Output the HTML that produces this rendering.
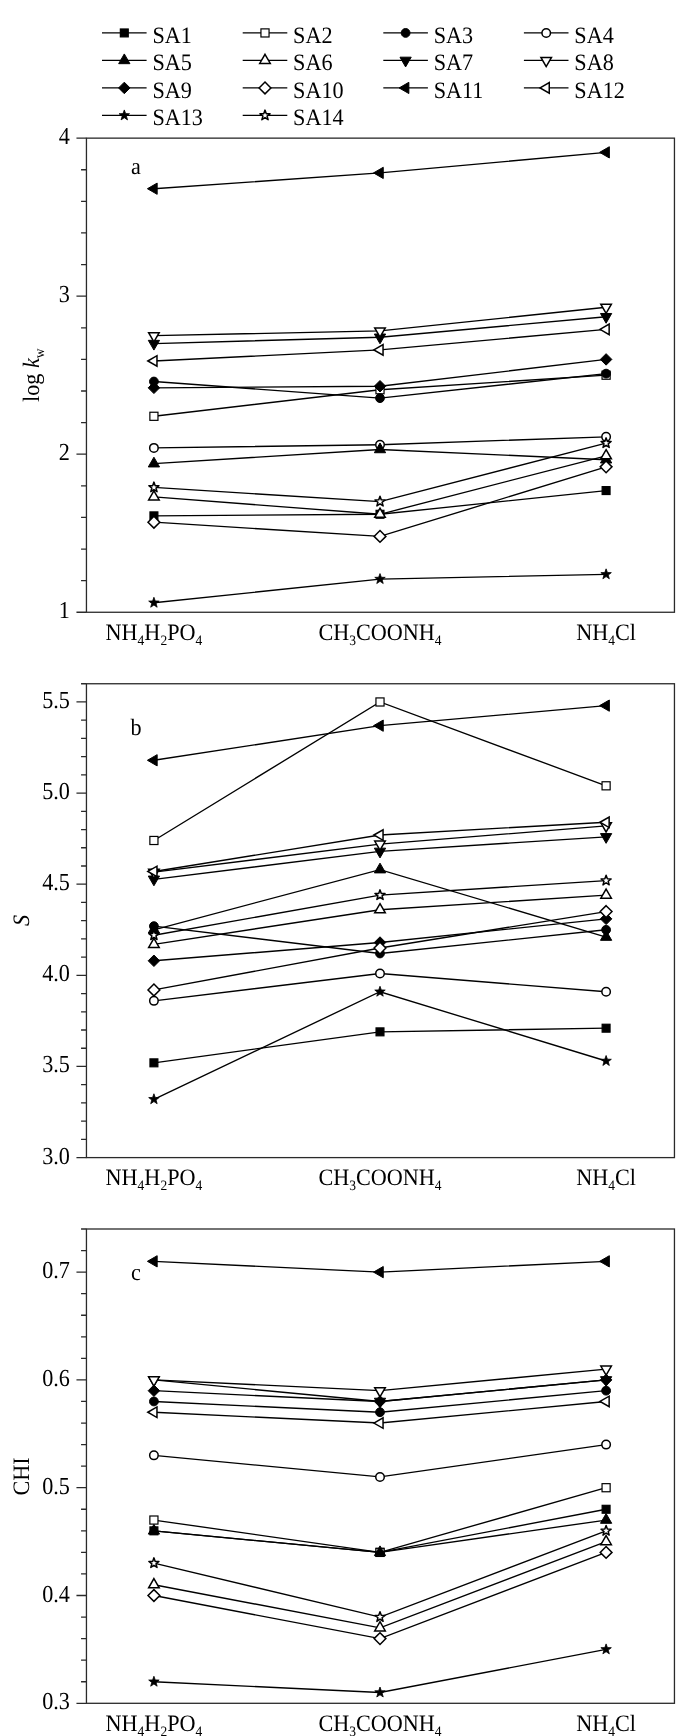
<!DOCTYPE html>
<html><head><meta charset="utf-8"><title>Figure</title>
<style>
html,body{margin:0;padding:0;background:#fff;}
body{width:700px;height:1736px;overflow:hidden;}
svg{display:block;will-change:transform;}
.t{text-rendering:geometricPrecision;font-family:"Liberation Serif",serif;font-size:22.2px;fill:#000;}
.s{font-size:13.5px;}
</style></head><body>
<svg width="700" height="1736" viewBox="0 0 700 1736">
<rect width="700" height="1736" fill="#fff"/>
<line x1="102" y1="32.93" x2="146.6" y2="32.93" stroke="#000" stroke-width="1.35"/>
<rect x="120.35" y="28.98" width="7.9" height="7.9" fill="#000" stroke="#000" stroke-width="1.2" stroke-linejoin="miter"/>
<text class="t" transform="translate(152.4 42.93) scale(1 1.06)">SA1</text>
<line x1="242.7" y1="32.93" x2="287.3" y2="32.93" stroke="#000" stroke-width="1.35"/>
<rect x="260.95" y="28.88" width="8.1" height="8.1" fill="#fff" stroke="#000" stroke-width="1.2" stroke-linejoin="miter"/>
<text class="t" transform="translate(293.1 42.93) scale(1 1.06)">SA2</text>
<line x1="383.3" y1="32.93" x2="427.9" y2="32.93" stroke="#000" stroke-width="1.35"/>
<circle cx="405.6" cy="32.93" r="4.4" fill="#000" stroke="#000" stroke-width="1.0" stroke-linejoin="miter"/>
<text class="t" transform="translate(433.7 42.93) scale(1 1.06)">SA3</text>
<line x1="523.9" y1="32.93" x2="568.5" y2="32.93" stroke="#000" stroke-width="1.35"/>
<circle cx="546.2" cy="32.93" r="4.25" fill="#fff" stroke="#000" stroke-width="1.5" stroke-linejoin="miter"/>
<text class="t" transform="translate(574.3 42.93) scale(1 1.06)">SA4</text>
<line x1="102" y1="60.43" x2="146.6" y2="60.43" stroke="#000" stroke-width="1.35"/>
<polygon points="124.3,53.93 129.93,63.68 118.67,63.68" fill="#000" stroke="#000" stroke-width="1.0" stroke-linejoin="miter"/>
<text class="t" transform="translate(152.4 70.43) scale(1 1.06)">SA5</text>
<line x1="242.7" y1="60.43" x2="287.3" y2="60.43" stroke="#000" stroke-width="1.35"/>
<polygon points="265,54.33 270.28,63.48 259.72,63.48" fill="#fff" stroke="#000" stroke-width="1.5" stroke-linejoin="miter"/>
<text class="t" transform="translate(293.1 70.43) scale(1 1.06)">SA6</text>
<line x1="383.3" y1="60.43" x2="427.9" y2="60.43" stroke="#000" stroke-width="1.35"/>
<polygon points="405.6,66.93 399.97,57.18 411.23,57.18" fill="#000" stroke="#000" stroke-width="1.0" stroke-linejoin="miter"/>
<text class="t" transform="translate(433.7 70.43) scale(1 1.06)">SA7</text>
<line x1="523.9" y1="60.43" x2="568.5" y2="60.43" stroke="#000" stroke-width="1.35"/>
<polygon points="546.2,66.53 540.92,57.38 551.48,57.38" fill="#fff" stroke="#000" stroke-width="1.5" stroke-linejoin="miter"/>
<text class="t" transform="translate(574.3 70.43) scale(1 1.06)">SA8</text>
<line x1="102" y1="87.93" x2="146.6" y2="87.93" stroke="#000" stroke-width="1.35"/>
<polygon points="124.3,82.18 130.05,87.93 124.3,93.68 118.55,87.93" fill="#000" stroke="#000" stroke-width="1.0" stroke-linejoin="miter"/>
<text class="t" transform="translate(152.4 97.93) scale(1 1.06)">SA9</text>
<line x1="242.7" y1="87.93" x2="287.3" y2="87.93" stroke="#000" stroke-width="1.35"/>
<polygon points="265,82.03 270.9,87.93 265,93.83 259.1,87.93" fill="#fff" stroke="#000" stroke-width="1.5" stroke-linejoin="miter"/>
<text class="t" transform="translate(293.1 97.93) scale(1 1.06)">SA10</text>
<line x1="383.3" y1="87.93" x2="427.9" y2="87.93" stroke="#000" stroke-width="1.35"/>
<polygon points="399.1,87.93 408.85,82.3 408.85,93.56" fill="#000" stroke="#000" stroke-width="1.0" stroke-linejoin="miter"/>
<text class="t" transform="translate(433.7 97.93) scale(1 1.06)">SA11</text>
<line x1="523.9" y1="87.93" x2="568.5" y2="87.93" stroke="#000" stroke-width="1.35"/>
<polygon points="540.1,87.93 549.25,82.65 549.25,93.21" fill="#fff" stroke="#000" stroke-width="1.5" stroke-linejoin="miter"/>
<text class="t" transform="translate(574.3 97.93) scale(1 1.06)">SA12</text>
<line x1="102" y1="115.43" x2="146.6" y2="115.43" stroke="#000" stroke-width="1.35"/>
<polygon points="124.3,109.93 125.63,113.61 129.53,113.73 126.44,116.13 127.53,119.88 124.3,117.69 121.07,119.88 122.16,116.13 119.07,113.73 122.97,113.61" fill="#000" stroke="#000" stroke-width="0.8" stroke-linejoin="round"/>
<text class="t" transform="translate(152.4 125.43) scale(1 1.06)">SA13</text>
<line x1="242.7" y1="115.43" x2="287.3" y2="115.43" stroke="#000" stroke-width="1.35"/>
<polygon points="265,110.13 266.28,113.67 270.04,113.79 267.07,116.1 268.12,119.72 265,117.6 261.88,119.72 262.93,116.1 259.96,113.79 263.72,113.67" fill="#fff" stroke="#000" stroke-width="1.5" stroke-linejoin="round"/>
<text class="t" transform="translate(293.1 125.43) scale(1 1.06)">SA14</text>
<!-- panel a -->
<rect x="86.45" y="138.14" width="588" height="474.12" fill="none" stroke="#2a2a2a" stroke-width="1.3"/>
<path d="M76.45 612.26h10M81.05 580.65h5.4M81.05 549.04h5.4M81.05 517.44h5.4M81.05 485.83h5.4M76.45 454.22h10M81.05 422.61h5.4M81.05 391h5.4M81.05 359.4h5.4M81.05 327.79h5.4M76.45 296.18h10M81.05 264.57h5.4M81.05 232.96h5.4M81.05 201.36h5.4M81.05 169.75h5.4M76.45 138.14h10" stroke="#2a2a2a" stroke-width="1.3" fill="none"/>
<text class="t" transform="translate(69.9 618.26) scale(1 1.1)" text-anchor="end">1</text>
<text class="t" transform="translate(69.9 460.22) scale(1 1.1)" text-anchor="end">2</text>
<text class="t" transform="translate(69.9 302.18) scale(1 1.1)" text-anchor="end">3</text>
<text class="t" transform="translate(69.9 144.14) scale(1 1.1)" text-anchor="end">4</text>
<text class="t" transform="translate(153.92 639.96) scale(1 1.06)" text-anchor="middle">NH<tspan class="s" dy="4.6">4</tspan><tspan dy="-4.6">H</tspan><tspan class="s" dy="4.6">2</tspan><tspan dy="-4.6">PO</tspan><tspan class="s" dy="4.6">4</tspan></text>
<text class="t" transform="translate(380 639.96) scale(1 1.06)" text-anchor="middle">CH<tspan class="s" dy="4.6">3</tspan><tspan dy="-4.6">COONH</tspan><tspan class="s" dy="4.6">4</tspan></text>
<text class="t" transform="translate(606.1 639.96) scale(1 1.06)" text-anchor="middle">NH<tspan class="s" dy="4.6">4</tspan><tspan dy="-4.6">Cl</tspan></text>
<text class="t" transform="translate(136 174.04) scale(1 1.06)" text-anchor="middle">a</text>
<text class="t" transform="translate(38.9 375.2) rotate(-90) scale(1 1.06)" text-anchor="middle">log <tspan font-style="italic">k</tspan><tspan class="s" dy="4.6">w</tspan></text>
<polyline points="153.92,515.86 380,514.28 606.1,490.57" fill="none" stroke="#000" stroke-width="1.35"/>
<rect x="149.97" y="511.91" width="7.9" height="7.9" fill="#000" stroke="#000" stroke-width="1.2" stroke-linejoin="miter"/>
<rect x="376.05" y="510.33" width="7.9" height="7.9" fill="#000" stroke="#000" stroke-width="1.2" stroke-linejoin="miter"/>
<rect x="602.15" y="486.62" width="7.9" height="7.9" fill="#000" stroke="#000" stroke-width="1.2" stroke-linejoin="miter"/>
<polyline points="153.92,416.29 380,389.74 606.1,375.2" fill="none" stroke="#000" stroke-width="1.35"/>
<rect x="149.87" y="412.24" width="8.1" height="8.1" fill="#fff" stroke="#000" stroke-width="1.2" stroke-linejoin="miter"/>
<rect x="375.95" y="385.69" width="8.1" height="8.1" fill="#fff" stroke="#000" stroke-width="1.2" stroke-linejoin="miter"/>
<rect x="602.05" y="371.15" width="8.1" height="8.1" fill="#fff" stroke="#000" stroke-width="1.2" stroke-linejoin="miter"/>
<polyline points="153.92,381.52 380,398.12 606.1,373.62" fill="none" stroke="#000" stroke-width="1.35"/>
<circle cx="153.92" cy="381.52" r="4.4" fill="#000" stroke="#000" stroke-width="1.0" stroke-linejoin="miter"/>
<circle cx="380" cy="398.12" r="4.4" fill="#000" stroke="#000" stroke-width="1.0" stroke-linejoin="miter"/>
<circle cx="606.1" cy="373.62" r="4.4" fill="#000" stroke="#000" stroke-width="1.0" stroke-linejoin="miter"/>
<polyline points="153.92,447.9 380,444.74 606.1,436.84" fill="none" stroke="#000" stroke-width="1.35"/>
<circle cx="153.92" cy="447.9" r="4.25" fill="#fff" stroke="#000" stroke-width="1.5" stroke-linejoin="miter"/>
<circle cx="380" cy="444.74" r="4.25" fill="#fff" stroke="#000" stroke-width="1.5" stroke-linejoin="miter"/>
<circle cx="606.1" cy="436.84" r="4.25" fill="#fff" stroke="#000" stroke-width="1.5" stroke-linejoin="miter"/>
<polyline points="153.92,463.7 380,449.48 606.1,459.75" fill="none" stroke="#000" stroke-width="1.35"/>
<polygon points="153.92,457.2 159.55,466.95 148.29,466.95" fill="#000" stroke="#000" stroke-width="1.0" stroke-linejoin="miter"/>
<polygon points="380,442.98 385.63,452.73 374.37,452.73" fill="#000" stroke="#000" stroke-width="1.0" stroke-linejoin="miter"/>
<polygon points="606.1,453.25 611.73,463 600.47,463" fill="#000" stroke="#000" stroke-width="1.0" stroke-linejoin="miter"/>
<polyline points="153.92,496.89 380,514.28 606.1,455.8" fill="none" stroke="#000" stroke-width="1.35"/>
<polygon points="153.92,490.79 159.2,499.94 148.64,499.94" fill="#fff" stroke="#000" stroke-width="1.5" stroke-linejoin="miter"/>
<polygon points="380,508.18 385.28,517.33 374.72,517.33" fill="#fff" stroke="#000" stroke-width="1.5" stroke-linejoin="miter"/>
<polygon points="606.1,449.7 611.38,458.85 600.82,458.85" fill="#fff" stroke="#000" stroke-width="1.5" stroke-linejoin="miter"/>
<polyline points="153.92,343.59 380,337.27 606.1,316.73" fill="none" stroke="#000" stroke-width="1.35"/>
<polygon points="153.92,350.09 148.29,340.34 159.55,340.34" fill="#000" stroke="#000" stroke-width="1.0" stroke-linejoin="miter"/>
<polygon points="380,343.77 374.37,334.02 385.63,334.02" fill="#000" stroke="#000" stroke-width="1.0" stroke-linejoin="miter"/>
<polygon points="606.1,323.23 600.47,313.48 611.73,313.48" fill="#000" stroke="#000" stroke-width="1.0" stroke-linejoin="miter"/>
<polyline points="153.92,335.69 380,330.95 606.1,307.24" fill="none" stroke="#000" stroke-width="1.35"/>
<polygon points="153.92,341.79 148.64,332.64 159.2,332.64" fill="#fff" stroke="#000" stroke-width="1.5" stroke-linejoin="miter"/>
<polygon points="380,337.05 374.72,327.9 385.28,327.9" fill="#fff" stroke="#000" stroke-width="1.5" stroke-linejoin="miter"/>
<polygon points="606.1,313.34 600.82,304.19 611.38,304.19" fill="#fff" stroke="#000" stroke-width="1.5" stroke-linejoin="miter"/>
<polyline points="153.92,387.84 380,386.26 606.1,359.4" fill="none" stroke="#000" stroke-width="1.35"/>
<polygon points="153.92,382.09 159.67,387.84 153.92,393.59 148.17,387.84" fill="#000" stroke="#000" stroke-width="1.0" stroke-linejoin="miter"/>
<polygon points="380,380.51 385.75,386.26 380,392.01 374.25,386.26" fill="#000" stroke="#000" stroke-width="1.0" stroke-linejoin="miter"/>
<polygon points="606.1,353.65 611.85,359.4 606.1,365.15 600.35,359.4" fill="#000" stroke="#000" stroke-width="1.0" stroke-linejoin="miter"/>
<polyline points="153.92,522.18 380,536.4 606.1,466.86" fill="none" stroke="#000" stroke-width="1.35"/>
<polygon points="153.92,516.28 159.82,522.18 153.92,528.08 148.02,522.18" fill="#fff" stroke="#000" stroke-width="1.5" stroke-linejoin="miter"/>
<polygon points="380,530.5 385.9,536.4 380,542.3 374.1,536.4" fill="#fff" stroke="#000" stroke-width="1.5" stroke-linejoin="miter"/>
<polygon points="606.1,460.96 612,466.86 606.1,472.76 600.2,466.86" fill="#fff" stroke="#000" stroke-width="1.5" stroke-linejoin="miter"/>
<polyline points="153.92,188.71 380,172.91 606.1,152.36" fill="none" stroke="#000" stroke-width="1.35"/>
<polygon points="147.42,188.71 157.17,183.08 157.17,194.34" fill="#000" stroke="#000" stroke-width="1.0" stroke-linejoin="miter"/>
<polygon points="373.5,172.91 383.25,167.28 383.25,178.54" fill="#000" stroke="#000" stroke-width="1.0" stroke-linejoin="miter"/>
<polygon points="599.6,152.36 609.35,146.73 609.35,157.99" fill="#000" stroke="#000" stroke-width="1.0" stroke-linejoin="miter"/>
<polyline points="153.92,360.98 380,349.91 606.1,329.37" fill="none" stroke="#000" stroke-width="1.35"/>
<polygon points="147.82,360.98 156.97,355.69 156.97,366.26" fill="#fff" stroke="#000" stroke-width="1.5" stroke-linejoin="miter"/>
<polygon points="373.9,349.91 383.05,344.63 383.05,355.2" fill="#fff" stroke="#000" stroke-width="1.5" stroke-linejoin="miter"/>
<polygon points="600,329.37 609.15,324.09 609.15,334.65" fill="#fff" stroke="#000" stroke-width="1.5" stroke-linejoin="miter"/>
<polyline points="153.92,602.78 380,579.07 606.1,574.33" fill="none" stroke="#000" stroke-width="1.35"/>
<polygon points="153.92,597.28 155.25,600.95 159.15,601.08 156.06,603.47 157.15,607.23 153.92,605.03 150.69,607.23 151.78,603.47 148.69,601.08 152.59,600.95" fill="#000" stroke="#000" stroke-width="0.8" stroke-linejoin="round"/>
<polygon points="380,573.57 381.33,577.25 385.23,577.37 382.14,579.77 383.23,583.52 380,581.33 376.77,583.52 377.86,579.77 374.77,577.37 378.67,577.25" fill="#000" stroke="#000" stroke-width="0.8" stroke-linejoin="round"/>
<polygon points="606.1,568.83 607.43,572.51 611.33,572.63 608.24,575.03 609.33,578.78 606.1,576.59 602.87,578.78 603.96,575.03 600.87,572.63 604.77,572.51" fill="#000" stroke="#000" stroke-width="0.8" stroke-linejoin="round"/>
<polyline points="153.92,487.41 380,501.63 606.1,443.16" fill="none" stroke="#000" stroke-width="1.35"/>
<polygon points="153.92,482.11 155.2,485.65 158.96,485.77 155.99,488.08 157.04,491.7 153.92,489.58 150.8,491.7 151.85,488.08 148.88,485.77 152.64,485.65" fill="#fff" stroke="#000" stroke-width="1.5" stroke-linejoin="round"/>
<polygon points="380,496.33 381.28,499.87 385.04,499.99 382.07,502.3 383.12,505.92 380,503.81 376.88,505.92 377.93,502.3 374.96,499.99 378.72,499.87" fill="#fff" stroke="#000" stroke-width="1.5" stroke-linejoin="round"/>
<polygon points="606.1,437.86 607.38,441.4 611.14,441.52 608.17,443.83 609.22,447.44 606.1,445.33 602.98,447.44 604.03,443.83 601.06,441.52 604.82,441.4" fill="#fff" stroke="#000" stroke-width="1.5" stroke-linejoin="round"/>
<!-- panel b -->
<rect x="86.45" y="683.75" width="588" height="473.85" fill="none" stroke="#2a2a2a" stroke-width="1.3"/>
<path d="M76.45 1157.6h10M81.05 1139.38h5.4M81.05 1121.15h5.4M81.05 1102.92h5.4M81.05 1084.7h5.4M76.45 1066.47h10M81.05 1048.25h5.4M81.05 1030.02h5.4M81.05 1011.8h5.4M81.05 993.57h5.4M76.45 975.35h10M81.05 957.12h5.4M81.05 938.9h5.4M81.05 920.67h5.4M81.05 902.45h5.4M76.45 884.22h10M81.05 866h5.4M81.05 847.77h5.4M81.05 829.55h5.4M81.05 811.32h5.4M76.45 793.1h10M81.05 774.88h5.4M81.05 756.65h5.4M81.05 738.42h5.4M81.05 720.2h5.4M76.45 701.97h10M81.05 683.75h5.4" stroke="#2a2a2a" stroke-width="1.3" fill="none"/>
<text class="t" transform="translate(69.9 1163.6) scale(1 1.1)" text-anchor="end">3.0</text>
<text class="t" transform="translate(69.9 1072.47) scale(1 1.1)" text-anchor="end">3.5</text>
<text class="t" transform="translate(69.9 981.35) scale(1 1.1)" text-anchor="end">4.0</text>
<text class="t" transform="translate(69.9 890.22) scale(1 1.1)" text-anchor="end">4.5</text>
<text class="t" transform="translate(69.9 799.1) scale(1 1.1)" text-anchor="end">5.0</text>
<text class="t" transform="translate(69.9 707.97) scale(1 1.1)" text-anchor="end">5.5</text>
<text class="t" transform="translate(153.92 1185.3) scale(1 1.06)" text-anchor="middle">NH<tspan class="s" dy="4.6">4</tspan><tspan dy="-4.6">H</tspan><tspan class="s" dy="4.6">2</tspan><tspan dy="-4.6">PO</tspan><tspan class="s" dy="4.6">4</tspan></text>
<text class="t" transform="translate(380 1185.3) scale(1 1.06)" text-anchor="middle">CH<tspan class="s" dy="4.6">3</tspan><tspan dy="-4.6">COONH</tspan><tspan class="s" dy="4.6">4</tspan></text>
<text class="t" transform="translate(606.1 1185.3) scale(1 1.06)" text-anchor="middle">NH<tspan class="s" dy="4.6">4</tspan><tspan dy="-4.6">Cl</tspan></text>
<text class="t" transform="translate(136 734.95) scale(1 1.06)" text-anchor="middle">b</text>
<text class="t" transform="translate(28.6 920.4) rotate(-90) scale(1 1.06)" text-anchor="middle" font-style="italic">S</text>
<polyline points="153.92,1062.83 380,1031.85 606.1,1028.2" fill="none" stroke="#000" stroke-width="1.35"/>
<rect x="149.97" y="1058.88" width="7.9" height="7.9" fill="#000" stroke="#000" stroke-width="1.2" stroke-linejoin="miter"/>
<rect x="376.05" y="1027.9" width="7.9" height="7.9" fill="#000" stroke="#000" stroke-width="1.2" stroke-linejoin="miter"/>
<rect x="602.15" y="1024.25" width="7.9" height="7.9" fill="#000" stroke="#000" stroke-width="1.2" stroke-linejoin="miter"/>
<polyline points="153.92,840.48 380,701.97 606.1,785.81" fill="none" stroke="#000" stroke-width="1.35"/>
<rect x="149.87" y="836.43" width="8.1" height="8.1" fill="#fff" stroke="#000" stroke-width="1.2" stroke-linejoin="miter"/>
<rect x="375.95" y="697.92" width="8.1" height="8.1" fill="#fff" stroke="#000" stroke-width="1.2" stroke-linejoin="miter"/>
<rect x="602.05" y="781.76" width="8.1" height="8.1" fill="#fff" stroke="#000" stroke-width="1.2" stroke-linejoin="miter"/>
<polyline points="153.92,926.14 380,953.48 606.1,929.79" fill="none" stroke="#000" stroke-width="1.35"/>
<circle cx="153.92" cy="926.14" r="4.4" fill="#000" stroke="#000" stroke-width="1.0" stroke-linejoin="miter"/>
<circle cx="380" cy="953.48" r="4.4" fill="#000" stroke="#000" stroke-width="1.0" stroke-linejoin="miter"/>
<circle cx="606.1" cy="929.79" r="4.4" fill="#000" stroke="#000" stroke-width="1.0" stroke-linejoin="miter"/>
<polyline points="153.92,1000.87 380,973.53 606.1,991.75" fill="none" stroke="#000" stroke-width="1.35"/>
<circle cx="153.92" cy="1000.87" r="4.25" fill="#fff" stroke="#000" stroke-width="1.5" stroke-linejoin="miter"/>
<circle cx="380" cy="973.53" r="4.25" fill="#fff" stroke="#000" stroke-width="1.5" stroke-linejoin="miter"/>
<circle cx="606.1" cy="991.75" r="4.25" fill="#fff" stroke="#000" stroke-width="1.5" stroke-linejoin="miter"/>
<polyline points="153.92,929.79 380,869.64 606.1,937.08" fill="none" stroke="#000" stroke-width="1.35"/>
<polygon points="153.92,923.29 159.55,933.04 148.29,933.04" fill="#000" stroke="#000" stroke-width="1.0" stroke-linejoin="miter"/>
<polygon points="380,863.14 385.63,872.89 374.37,872.89" fill="#000" stroke="#000" stroke-width="1.0" stroke-linejoin="miter"/>
<polygon points="606.1,930.58 611.73,940.33 600.47,940.33" fill="#000" stroke="#000" stroke-width="1.0" stroke-linejoin="miter"/>
<polyline points="153.92,944.37 380,909.74 606.1,895.16" fill="none" stroke="#000" stroke-width="1.35"/>
<polygon points="153.92,938.27 159.2,947.42 148.64,947.42" fill="#fff" stroke="#000" stroke-width="1.5" stroke-linejoin="miter"/>
<polygon points="380,903.64 385.28,912.79 374.72,912.79" fill="#fff" stroke="#000" stroke-width="1.5" stroke-linejoin="miter"/>
<polygon points="606.1,889.06 611.38,898.21 600.82,898.21" fill="#fff" stroke="#000" stroke-width="1.5" stroke-linejoin="miter"/>
<polyline points="153.92,879.3 380,851.42 606.1,836.84" fill="none" stroke="#000" stroke-width="1.35"/>
<polygon points="153.92,885.8 148.29,876.05 159.55,876.05" fill="#000" stroke="#000" stroke-width="1.0" stroke-linejoin="miter"/>
<polygon points="380,857.92 374.37,848.17 385.63,848.17" fill="#000" stroke="#000" stroke-width="1.0" stroke-linejoin="miter"/>
<polygon points="606.1,843.34 600.47,833.59 611.73,833.59" fill="#000" stroke="#000" stroke-width="1.0" stroke-linejoin="miter"/>
<polyline points="153.92,872.2 380,844.13 606.1,825.9" fill="none" stroke="#000" stroke-width="1.35"/>
<polygon points="153.92,878.3 148.64,869.15 159.2,869.15" fill="#fff" stroke="#000" stroke-width="1.5" stroke-linejoin="miter"/>
<polygon points="380,850.23 374.72,841.08 385.28,841.08" fill="#fff" stroke="#000" stroke-width="1.5" stroke-linejoin="miter"/>
<polygon points="606.1,832 600.82,822.86 611.38,822.86" fill="#fff" stroke="#000" stroke-width="1.5" stroke-linejoin="miter"/>
<polyline points="153.92,960.77 380,942.54 606.1,918.85" fill="none" stroke="#000" stroke-width="1.35"/>
<polygon points="153.92,955.02 159.67,960.77 153.92,966.52 148.17,960.77" fill="#000" stroke="#000" stroke-width="1.0" stroke-linejoin="miter"/>
<polygon points="380,936.79 385.75,942.54 380,948.29 374.25,942.54" fill="#000" stroke="#000" stroke-width="1.0" stroke-linejoin="miter"/>
<polygon points="606.1,913.1 611.85,918.85 606.1,924.6 600.35,918.85" fill="#000" stroke="#000" stroke-width="1.0" stroke-linejoin="miter"/>
<polyline points="153.92,989.93 380,948.01 606.1,911.56" fill="none" stroke="#000" stroke-width="1.35"/>
<polygon points="153.92,984.03 159.82,989.93 153.92,995.83 148.02,989.93" fill="#fff" stroke="#000" stroke-width="1.5" stroke-linejoin="miter"/>
<polygon points="380,942.11 385.9,948.01 380,953.91 374.1,948.01" fill="#fff" stroke="#000" stroke-width="1.5" stroke-linejoin="miter"/>
<polygon points="606.1,905.66 612,911.56 606.1,917.46 600.2,911.56" fill="#fff" stroke="#000" stroke-width="1.5" stroke-linejoin="miter"/>
<polyline points="153.92,760.29 380,725.67 606.1,705.62" fill="none" stroke="#000" stroke-width="1.35"/>
<polygon points="147.42,760.29 157.17,754.67 157.17,765.92" fill="#000" stroke="#000" stroke-width="1.0" stroke-linejoin="miter"/>
<polygon points="373.5,725.67 383.25,720.04 383.25,731.3" fill="#000" stroke="#000" stroke-width="1.0" stroke-linejoin="miter"/>
<polygon points="599.6,705.62 609.35,699.99 609.35,711.25" fill="#000" stroke="#000" stroke-width="1.0" stroke-linejoin="miter"/>
<polyline points="153.92,871.47 380,835.02 606.1,822.26" fill="none" stroke="#000" stroke-width="1.35"/>
<polygon points="147.82,871.47 156.97,866.18 156.97,876.75" fill="#fff" stroke="#000" stroke-width="1.5" stroke-linejoin="miter"/>
<polygon points="373.9,835.02 383.05,829.73 383.05,840.3" fill="#fff" stroke="#000" stroke-width="1.5" stroke-linejoin="miter"/>
<polygon points="600,822.26 609.15,816.98 609.15,827.54" fill="#fff" stroke="#000" stroke-width="1.5" stroke-linejoin="miter"/>
<polyline points="153.92,1099.28 380,991.75 606.1,1061.01" fill="none" stroke="#000" stroke-width="1.35"/>
<polygon points="153.92,1093.78 155.25,1097.46 159.15,1097.58 156.06,1099.98 157.15,1103.73 153.92,1101.54 150.69,1103.73 151.78,1099.98 148.69,1097.58 152.59,1097.46" fill="#000" stroke="#000" stroke-width="0.8" stroke-linejoin="round"/>
<polygon points="380,986.25 381.33,989.93 385.23,990.05 382.14,992.45 383.23,996.2 380,994.01 376.77,996.2 377.86,992.45 374.77,990.05 378.67,989.93" fill="#000" stroke="#000" stroke-width="0.8" stroke-linejoin="round"/>
<polygon points="606.1,1055.51 607.43,1059.18 611.33,1059.31 608.24,1061.7 609.33,1065.46 606.1,1063.26 602.87,1065.46 603.96,1061.7 600.87,1059.31 604.77,1059.18" fill="#000" stroke="#000" stroke-width="0.8" stroke-linejoin="round"/>
<polyline points="153.92,935.25 380,895.16 606.1,880.58" fill="none" stroke="#000" stroke-width="1.35"/>
<polygon points="153.92,929.96 155.2,933.5 158.96,933.62 155.99,935.93 157.04,939.54 153.92,937.43 150.8,939.54 151.85,935.93 148.88,933.62 152.64,933.5" fill="#fff" stroke="#000" stroke-width="1.5" stroke-linejoin="round"/>
<polygon points="380,889.86 381.28,893.4 385.04,893.52 382.07,895.83 383.12,899.45 380,897.33 376.88,899.45 377.93,895.83 374.96,893.52 378.72,893.4" fill="#fff" stroke="#000" stroke-width="1.5" stroke-linejoin="round"/>
<polygon points="606.1,875.28 607.38,878.82 611.14,878.94 608.17,881.25 609.22,884.87 606.1,882.75 602.98,884.87 604.03,881.25 601.06,878.94 604.82,878.82" fill="#fff" stroke="#000" stroke-width="1.5" stroke-linejoin="round"/>
<!-- panel c -->
<rect x="86.45" y="1229" width="588" height="474.3" fill="none" stroke="#2a2a2a" stroke-width="1.3"/>
<path d="M76.45 1703.3h10M81.05 1681.74h5.4M81.05 1660.18h5.4M81.05 1638.62h5.4M81.05 1617.06h5.4M76.45 1595.5h10M81.05 1573.95h5.4M81.05 1552.39h5.4M81.05 1530.83h5.4M81.05 1509.27h5.4M76.45 1487.71h10M81.05 1466.15h5.4M81.05 1444.59h5.4M81.05 1423.03h5.4M81.05 1401.47h5.4M76.45 1379.91h10M81.05 1358.35h5.4M81.05 1336.8h5.4M81.05 1315.24h5.4M81.05 1293.68h5.4M76.45 1272.12h10M81.05 1250.56h5.4M81.05 1229h5.4" stroke="#2a2a2a" stroke-width="1.3" fill="none"/>
<text class="t" transform="translate(69.9 1709.3) scale(1 1.1)" text-anchor="end">0.3</text>
<text class="t" transform="translate(69.9 1601.5) scale(1 1.1)" text-anchor="end">0.4</text>
<text class="t" transform="translate(69.9 1493.71) scale(1 1.1)" text-anchor="end">0.5</text>
<text class="t" transform="translate(69.9 1385.91) scale(1 1.1)" text-anchor="end">0.6</text>
<text class="t" transform="translate(69.9 1278.12) scale(1 1.1)" text-anchor="end">0.7</text>
<text class="t" transform="translate(153.92 1731) scale(1 1.06)" text-anchor="middle">NH<tspan class="s" dy="4.6">4</tspan><tspan dy="-4.6">H</tspan><tspan class="s" dy="4.6">2</tspan><tspan dy="-4.6">PO</tspan><tspan class="s" dy="4.6">4</tspan></text>
<text class="t" transform="translate(380 1731) scale(1 1.06)" text-anchor="middle">CH<tspan class="s" dy="4.6">3</tspan><tspan dy="-4.6">COONH</tspan><tspan class="s" dy="4.6">4</tspan></text>
<text class="t" transform="translate(606.1 1731) scale(1 1.06)" text-anchor="middle">NH<tspan class="s" dy="4.6">4</tspan><tspan dy="-4.6">Cl</tspan></text>
<text class="t" transform="translate(136 1280.2) scale(1 1.06)" text-anchor="middle">c</text>
<text class="t" transform="translate(28.6 1476.5) rotate(-90) scale(1 1.06)" text-anchor="middle">CHI</text>
<polyline points="153.92,1530.83 380,1552.39 606.1,1509.27" fill="none" stroke="#000" stroke-width="1.35"/>
<rect x="149.97" y="1526.88" width="7.9" height="7.9" fill="#000" stroke="#000" stroke-width="1.2" stroke-linejoin="miter"/>
<rect x="376.05" y="1548.44" width="7.9" height="7.9" fill="#000" stroke="#000" stroke-width="1.2" stroke-linejoin="miter"/>
<rect x="602.15" y="1505.32" width="7.9" height="7.9" fill="#000" stroke="#000" stroke-width="1.2" stroke-linejoin="miter"/>
<polyline points="153.92,1520.05 380,1552.39 606.1,1487.71" fill="none" stroke="#000" stroke-width="1.35"/>
<rect x="149.87" y="1516" width="8.1" height="8.1" fill="#fff" stroke="#000" stroke-width="1.2" stroke-linejoin="miter"/>
<rect x="375.95" y="1548.34" width="8.1" height="8.1" fill="#fff" stroke="#000" stroke-width="1.2" stroke-linejoin="miter"/>
<rect x="602.05" y="1483.66" width="8.1" height="8.1" fill="#fff" stroke="#000" stroke-width="1.2" stroke-linejoin="miter"/>
<polyline points="153.92,1401.47 380,1412.25 606.1,1390.69" fill="none" stroke="#000" stroke-width="1.35"/>
<circle cx="153.92" cy="1401.47" r="4.4" fill="#000" stroke="#000" stroke-width="1.0" stroke-linejoin="miter"/>
<circle cx="380" cy="1412.25" r="4.4" fill="#000" stroke="#000" stroke-width="1.0" stroke-linejoin="miter"/>
<circle cx="606.1" cy="1390.69" r="4.4" fill="#000" stroke="#000" stroke-width="1.0" stroke-linejoin="miter"/>
<polyline points="153.92,1455.37 380,1476.93 606.1,1444.59" fill="none" stroke="#000" stroke-width="1.35"/>
<circle cx="153.92" cy="1455.37" r="4.25" fill="#fff" stroke="#000" stroke-width="1.5" stroke-linejoin="miter"/>
<circle cx="380" cy="1476.93" r="4.25" fill="#fff" stroke="#000" stroke-width="1.5" stroke-linejoin="miter"/>
<circle cx="606.1" cy="1444.59" r="4.25" fill="#fff" stroke="#000" stroke-width="1.5" stroke-linejoin="miter"/>
<polyline points="153.92,1530.83 380,1552.39 606.1,1520.05" fill="none" stroke="#000" stroke-width="1.35"/>
<polygon points="153.92,1524.33 159.55,1534.08 148.29,1534.08" fill="#000" stroke="#000" stroke-width="1.0" stroke-linejoin="miter"/>
<polygon points="380,1545.89 385.63,1555.64 374.37,1555.64" fill="#000" stroke="#000" stroke-width="1.0" stroke-linejoin="miter"/>
<polygon points="606.1,1513.55 611.73,1523.3 600.47,1523.3" fill="#000" stroke="#000" stroke-width="1.0" stroke-linejoin="miter"/>
<polyline points="153.92,1584.72 380,1627.84 606.1,1541.61" fill="none" stroke="#000" stroke-width="1.35"/>
<polygon points="153.92,1578.62 159.2,1587.77 148.64,1587.77" fill="#fff" stroke="#000" stroke-width="1.5" stroke-linejoin="miter"/>
<polygon points="380,1621.74 385.28,1630.89 374.72,1630.89" fill="#fff" stroke="#000" stroke-width="1.5" stroke-linejoin="miter"/>
<polygon points="606.1,1535.51 611.38,1544.66 600.82,1544.66" fill="#fff" stroke="#000" stroke-width="1.5" stroke-linejoin="miter"/>
<polyline points="153.92,1379.91 380,1401.47 606.1,1379.91" fill="none" stroke="#000" stroke-width="1.35"/>
<polygon points="153.92,1386.41 148.29,1376.66 159.55,1376.66" fill="#000" stroke="#000" stroke-width="1.0" stroke-linejoin="miter"/>
<polygon points="380,1407.97 374.37,1398.22 385.63,1398.22" fill="#000" stroke="#000" stroke-width="1.0" stroke-linejoin="miter"/>
<polygon points="606.1,1386.41 600.47,1376.66 611.73,1376.66" fill="#000" stroke="#000" stroke-width="1.0" stroke-linejoin="miter"/>
<polyline points="153.92,1379.91 380,1390.69 606.1,1369.13" fill="none" stroke="#000" stroke-width="1.35"/>
<polygon points="153.92,1386.01 148.64,1376.86 159.2,1376.86" fill="#fff" stroke="#000" stroke-width="1.5" stroke-linejoin="miter"/>
<polygon points="380,1396.79 374.72,1387.64 385.28,1387.64" fill="#fff" stroke="#000" stroke-width="1.5" stroke-linejoin="miter"/>
<polygon points="606.1,1375.23 600.82,1366.08 611.38,1366.08" fill="#fff" stroke="#000" stroke-width="1.5" stroke-linejoin="miter"/>
<polyline points="153.92,1390.69 380,1401.47 606.1,1379.91" fill="none" stroke="#000" stroke-width="1.35"/>
<polygon points="153.92,1384.94 159.67,1390.69 153.92,1396.44 148.17,1390.69" fill="#000" stroke="#000" stroke-width="1.0" stroke-linejoin="miter"/>
<polygon points="380,1395.72 385.75,1401.47 380,1407.22 374.25,1401.47" fill="#000" stroke="#000" stroke-width="1.0" stroke-linejoin="miter"/>
<polygon points="606.1,1374.16 611.85,1379.91 606.1,1385.66 600.35,1379.91" fill="#000" stroke="#000" stroke-width="1.0" stroke-linejoin="miter"/>
<polyline points="153.92,1595.5 380,1638.62 606.1,1552.39" fill="none" stroke="#000" stroke-width="1.35"/>
<polygon points="153.92,1589.6 159.82,1595.5 153.92,1601.4 148.02,1595.5" fill="#fff" stroke="#000" stroke-width="1.5" stroke-linejoin="miter"/>
<polygon points="380,1632.72 385.9,1638.62 380,1644.52 374.1,1638.62" fill="#fff" stroke="#000" stroke-width="1.5" stroke-linejoin="miter"/>
<polygon points="606.1,1546.49 612,1552.39 606.1,1558.29 600.2,1552.39" fill="#fff" stroke="#000" stroke-width="1.5" stroke-linejoin="miter"/>
<polyline points="153.92,1261.34 380,1272.12 606.1,1261.34" fill="none" stroke="#000" stroke-width="1.35"/>
<polygon points="147.42,1261.34 157.17,1255.71 157.17,1266.97" fill="#000" stroke="#000" stroke-width="1.0" stroke-linejoin="miter"/>
<polygon points="373.5,1272.12 383.25,1266.49 383.25,1277.75" fill="#000" stroke="#000" stroke-width="1.0" stroke-linejoin="miter"/>
<polygon points="599.6,1261.34 609.35,1255.71 609.35,1266.97" fill="#000" stroke="#000" stroke-width="1.0" stroke-linejoin="miter"/>
<polyline points="153.92,1412.25 380,1423.03 606.1,1401.47" fill="none" stroke="#000" stroke-width="1.35"/>
<polygon points="147.82,1412.25 156.97,1406.97 156.97,1417.54" fill="#fff" stroke="#000" stroke-width="1.5" stroke-linejoin="miter"/>
<polygon points="373.9,1423.03 383.05,1417.75 383.05,1428.31" fill="#fff" stroke="#000" stroke-width="1.5" stroke-linejoin="miter"/>
<polygon points="600,1401.47 609.15,1396.19 609.15,1406.76" fill="#fff" stroke="#000" stroke-width="1.5" stroke-linejoin="miter"/>
<polyline points="153.92,1681.74 380,1692.52 606.1,1649.4" fill="none" stroke="#000" stroke-width="1.35"/>
<polygon points="153.92,1676.24 155.25,1679.92 159.15,1680.04 156.06,1682.44 157.15,1686.19 153.92,1684 150.69,1686.19 151.78,1682.44 148.69,1680.04 152.59,1679.92" fill="#000" stroke="#000" stroke-width="0.8" stroke-linejoin="round"/>
<polygon points="380,1687.02 381.33,1690.7 385.23,1690.82 382.14,1693.22 383.23,1696.97 380,1694.78 376.77,1696.97 377.86,1693.22 374.77,1690.82 378.67,1690.7" fill="#000" stroke="#000" stroke-width="0.8" stroke-linejoin="round"/>
<polygon points="606.1,1643.9 607.43,1647.58 611.33,1647.7 608.24,1650.1 609.33,1653.85 606.1,1651.66 602.87,1653.85 603.96,1650.1 600.87,1647.7 604.77,1647.58" fill="#000" stroke="#000" stroke-width="0.8" stroke-linejoin="round"/>
<polyline points="153.92,1563.17 380,1617.06 606.1,1530.83" fill="none" stroke="#000" stroke-width="1.35"/>
<polygon points="153.92,1557.87 155.2,1561.41 158.96,1561.53 155.99,1563.84 157.04,1567.45 153.92,1565.34 150.8,1567.45 151.85,1563.84 148.88,1561.53 152.64,1561.41" fill="#fff" stroke="#000" stroke-width="1.5" stroke-linejoin="round"/>
<polygon points="380,1611.76 381.28,1615.31 385.04,1615.43 382.07,1617.74 383.12,1621.35 380,1619.24 376.88,1621.35 377.93,1617.74 374.96,1615.43 378.72,1615.31" fill="#fff" stroke="#000" stroke-width="1.5" stroke-linejoin="round"/>
<polygon points="606.1,1525.53 607.38,1529.07 611.14,1529.19 608.17,1531.5 609.22,1535.12 606.1,1533 602.98,1535.12 604.03,1531.5 601.06,1529.19 604.82,1529.07" fill="#fff" stroke="#000" stroke-width="1.5" stroke-linejoin="round"/>
</svg>
</body></html>
